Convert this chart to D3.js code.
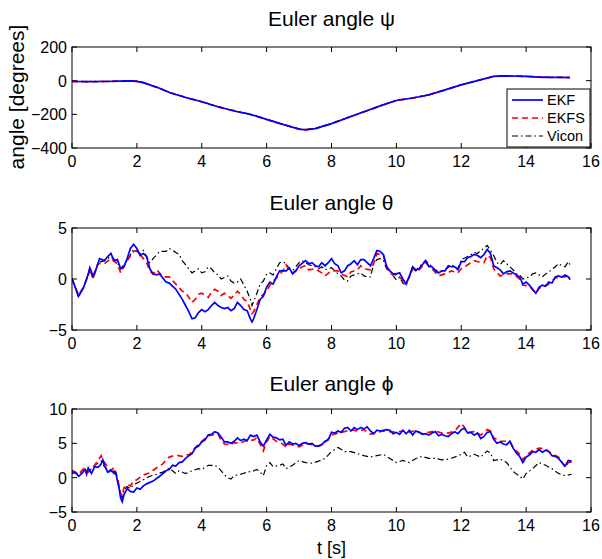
<!DOCTYPE html>
<html>
<head>
<meta charset="utf-8">
<script src="https://cdn.jsdelivr.net/npm/d3@7"></script>
<style>
  body { margin: 0; background: #fff; }
  text { font-family: "Liberation Sans", Arial, sans-serif; }
</style>
</head>
<body>
<div id="chart"></div>
<script>
const width = 602;
const height = 559;
const margin = { left: 72, right: 11 };

const xTicks = [0, 2, 4, 6, 8, 10, 12, 14, 16];
const seriesNames = ["EKF", "EKFS", "Vicon"];

// psi [t, deg]
const psiEKF = [[0,-5],[0.5,-6],[1,-5],[1.5,-3],[1.8,-1],[2,-4],[2.2,-12],[2.4,-25],[2.7,-45],[3,-70],[3.5,-100],[4,-125],[4.5,-155],[5,-180],[5.5,-200],[6,-230],[6.5,-260],[7,-288],[7.2,-292],[7.5,-285],[8,-255],[8.5,-220],[9,-185],[9.5,-150],[10,-118],[10.5,-103],[11,-85],[11.5,-55],[12,-25],[12.5,0],[13,25],[13.3,28],[14,26],[14.5,20],[15,20],[15.35,18]];
const psiEKFS = [[0,-4],[0.5,-7],[1,-5],[1.5,-3],[1.8,-1],[2,-4],[2.2,-12],[2.4,-26],[2.7,-46],[3,-70],[3.5,-99],[4,-126],[4.5,-156],[5,-179],[5.5,-201],[6,-231],[6.5,-261],[7,-287],[7.2,-291],[7.5,-284],[8,-256],[8.5,-219],[9,-186],[9.5,-151],[10,-117],[10.5,-104],[11,-84],[11.5,-56],[12,-24],[12.5,1],[13,26],[13.3,28],[14,25],[14.5,21],[15,19],[15.35,19]];
const psiVicon = [[0,-3],[0.5,-5],[1,-4],[1.5,-2],[1.8,0],[2,-3],[2.2,-11],[2.4,-24],[2.7,-44],[3,-69],[3.5,-98],[4,-124],[4.5,-154],[5,-178],[5.5,-199],[6,-229],[6.5,-259],[7,-286],[7.2,-290],[7.5,-283],[8,-254],[8.5,-218],[9,-184],[9.5,-149],[10,-116],[10.5,-102],[11,-83],[11.5,-54],[12,-24],[12.5,1],[13,26],[13.3,29],[14,27],[14.5,21],[15,20],[15.35,19]];

// theta [t, deg]
const thetaEKF = [[0,0],[0.1,-0.8],[0.2,-1.7],[0.35,-0.9],[0.5,0.5],[0.55,1.1],[0.65,0.3],[0.75,1.0],[0.85,2.0],[1,1.8],[1.1,2.2],[1.2,2.5],[1.3,1.8],[1.4,1.9],[1.5,1.0],[1.6,1.2],[1.7,2.0],[1.8,3.0],[1.9,3.4],[2,3.0],[2.1,2.3],[2.2,2.5],[2.3,2.2],[2.4,1.0],[2.5,0.5],[2.6,0.4],[2.7,0.5],[2.8,0.1],[2.9,-0.3],[3,-0.4],[3.2,-1.0],[3.4,-2.0],[3.5,-2.6],[3.6,-3.2],[3.7,-3.9],[3.8,-3.8],[3.9,-3.3],[4,-3.0],[4.1,-3.2],[4.2,-3.0],[4.3,-2.6],[4.4,-2.3],[4.5,-2.6],[4.6,-2.8],[4.7,-2.9],[4.8,-2.8],[4.9,-3.1],[5,-2.9],[5.1,-2.3],[5.2,-2.6],[5.3,-3.0],[5.4,-3.1],[5.5,-3.9],[5.55,-4.2],[5.6,-3.9],[5.7,-3.0],[5.8,-2.0],[5.9,-1.7],[6,-0.8],[6.1,-0.3],[6.2,-0.5],[6.3,0.2],[6.4,0.8],[6.6,0.8],[6.7,1.1],[6.8,0.5],[6.9,0.8],[7,1.3],[7.2,1.8],[7.3,1.5],[7.4,1.6],[7.5,1.3],[7.6,1.2],[7.7,1.6],[7.8,1.3],[7.9,1.6],[8,2.0],[8.1,1.5],[8.2,1.3],[8.3,0.6],[8.4,0.8],[8.5,1.3],[8.6,1.5],[8.7,1.8],[8.8,1.4],[8.9,1.9],[9,1.9],[9.1,1.6],[9.2,1.3],[9.3,2.0],[9.4,2.8],[9.5,2.7],[9.6,2.4],[9.7,1.2],[9.8,0.8],[9.9,0.5],[10,0.5],[10.1,0.6],[10.2,0.0],[10.3,-0.5],[10.4,0.3],[10.5,1.2],[10.6,0.9],[10.7,1.0],[10.8,1.4],[10.9,1.8],[11,1.2],[11.1,1.2],[11.2,0.8],[11.3,0.6],[11.4,0.8],[11.5,0.8],[11.6,1.3],[11.7,1.2],[11.8,1.2],[11.9,0.9],[12,1.7],[12.1,1.7],[12.2,2.1],[12.3,2.2],[12.4,2.4],[12.5,2.3],[12.6,2.1],[12.7,2.4],[12.8,2.9],[12.9,2.5],[13,1.3],[13.1,1.1],[13.2,0.9],[13.3,0.5],[13.4,0.7],[13.5,0.8],[13.6,0.6],[13.7,0.4],[13.8,0.2],[13.9,-0.5],[14,-0.3],[14.1,-0.6],[14.2,-1.0],[14.3,-1.4],[14.4,-0.8],[14.5,-0.6],[14.6,-0.7],[14.7,-0.3],[14.8,-0.4],[14.9,0.2],[15,0.3],[15.1,0.2],[15.2,0.4],[15.3,0.2],[15.35,0.0]];
const thetaEKFS = [[0,0],[0.2,-1.6],[0.35,-0.8],[0.5,0.3],[0.55,1.0],[0.65,0.0],[0.8,1.5],[1,1.5],[1.2,2.0],[1.4,1.5],[1.5,0.6],[1.7,1.8],[1.9,2.7],[2,2.8],[2.2,2.0],[2.3,1.6],[2.4,0.8],[2.5,0.5],[2.6,0.9],[2.7,0.6],[2.8,0.2],[3,0.2],[3.2,-0.5],[3.4,-1.2],[3.5,-1.3],[3.6,-1.8],[3.7,-2.3],[3.8,-2.0],[3.9,-1.5],[4,-1.4],[4.2,-1.8],[4.3,-1.3],[4.4,-1.0],[4.5,-1.2],[4.6,-1.6],[4.7,-1.4],[4.8,-1.6],[4.9,-1.9],[5,-1.6],[5.1,-1.2],[5.2,-1.5],[5.3,-2.0],[5.4,-2.2],[5.5,-3.0],[5.55,-3.4],[5.6,-3.2],[5.7,-2.5],[5.8,-1.8],[6,-1.2],[6.1,-0.6],[6.3,0.1],[6.5,0.8],[6.6,1.4],[6.7,0.8],[6.8,0.6],[7,1.0],[7.1,1.2],[7.2,1.3],[7.3,0.9],[7.5,1.0],[7.7,0.6],[7.8,0.3],[8,0.8],[8.2,0.8],[8.3,0.5],[8.5,0.2],[8.6,0.7],[8.8,0.9],[8.9,1.3],[9,1.0],[9.2,0.9],[9.3,1.5],[9.4,2.5],[9.5,2.4],[9.6,2.3],[9.7,1.2],[9.8,0.5],[10,0.4],[10.2,-0.1],[10.3,-0.4],[10.4,0.2],[10.5,1.0],[10.7,0.9],[10.9,1.6],[11.1,1.0],[11.3,0.3],[11.5,0.5],[11.7,0.8],[11.9,0.6],[12,1.0],[12.2,1.4],[12.4,1.8],[12.5,1.7],[12.7,1.6],[12.8,2.3],[12.9,2.1],[13,1.0],[13.2,0.3],[13.4,0.5],[13.6,0.5],[13.8,0.0],[13.9,-0.6],[14.1,-0.7],[14.3,-1.4],[14.4,-0.9],[14.5,-0.8],[14.7,-0.5],[14.9,0.1],[15.1,0.2],[15.2,0.2],[15.3,0.4],[15.35,-0.1]];
const thetaVicon = [[0,0.1],[0.2,-1.8],[0.4,-0.5],[0.55,1.0],[0.65,0.0],[0.8,1.6],[1,1.8],[1.2,2.2],[1.4,1.6],[1.5,1.0],[1.7,1.8],[1.9,2.9],[2.1,2.5],[2.2,2.8],[2.4,1.6],[2.5,2.0],[2.7,2.7],[2.9,2.7],[3,3.0],[3.1,2.8],[3.3,2.4],[3.4,1.8],[3.5,1.4],[3.6,1.0],[3.7,0.6],[3.8,0.8],[3.9,1.0],[4,0.6],[4.1,0.7],[4.2,1.2],[4.3,1.0],[4.4,0.6],[4.5,0.4],[4.6,0.0],[4.8,0.3],[4.9,-0.2],[5,-0.4],[5.1,-0.3],[5.2,0.0],[5.3,-0.6],[5.4,-1.2],[5.5,-2.0],[5.55,-2.6],[5.6,-2.2],[5.7,-1.4],[5.8,-0.5],[5.9,-0.2],[6,0.5],[6.1,0.6],[6.2,0.4],[6.3,1.0],[6.4,1.6],[6.5,1.7],[6.6,1.5],[6.7,1.0],[6.8,0.8],[6.9,1.2],[7,1.6],[7.1,1.8],[7.3,1.4],[7.5,1.2],[7.6,1.0],[7.7,1.2],[7.8,0.9],[8,1.1],[8.1,0.8],[8.2,0.5],[8.3,0.3],[8.4,-0.1],[8.5,-0.2],[8.6,0.3],[8.8,0.5],[8.9,0.6],[9,0.3],[9.1,0.2],[9.2,0.2],[9.3,1.5],[9.4,1.9],[9.5,2.0],[9.6,1.8],[9.7,1.0],[9.8,0.8],[9.9,0.3],[10,-0.1],[10.1,0.2],[10.2,-0.4],[10.3,-0.6],[10.4,0.2],[10.5,1.0],[10.6,0.8],[10.7,1.2],[10.9,1.8],[11,1.5],[11.2,0.9],[11.3,0.7],[11.5,0.9],[11.7,1.4],[11.9,1.0],[12,1.9],[12.2,2.2],[12.4,2.6],[12.5,2.5],[12.6,2.8],[12.7,3.0],[12.8,3.3],[12.9,2.8],[13,2.3],[13.1,1.6],[13.2,1.4],[13.3,1.8],[13.5,1.2],[13.6,0.9],[13.7,0.5],[13.8,0.4],[13.9,0.0],[14,0.1],[14.1,0.2],[14.2,0.5],[14.3,0.6],[14.5,0.2],[14.6,0.5],[14.7,0.7],[14.9,1.2],[15,1.5],[15.1,1.3],[15.2,1.2],[15.3,1.7],[15.35,1.4]];

// phi [t, deg]
const phiEKF = [[0,0.6],[0.1,0.8],[0.2,0.2],[0.3,0.6],[0.4,1.2],[0.45,0.5],[0.5,1.4],[0.6,0.6],[0.7,1.6],[0.8,1.5],[0.9,2.0],[0.95,2.6],[1,1.8],[1.1,0.8],[1.2,1.1],[1.3,0.6],[1.35,0.7],[1.4,-0.5],[1.45,-1.5],[1.5,-3.0],[1.55,-3.5],[1.6,-2.5],[1.7,-1.6],[1.8,-2.0],[1.9,-2.1],[2,-1.5],[2.1,-1.7],[2.2,-1.2],[2.3,-0.9],[2.5,-0.5],[2.7,0.2],[2.9,1.0],[3,1.2],[3.1,1.8],[3.2,1.7],[3.3,2.2],[3.4,2.3],[3.5,2.8],[3.6,3.2],[3.7,3.5],[3.8,4.3],[3.9,4.6],[4,5.2],[4.1,5.5],[4.2,6.2],[4.3,6.3],[4.4,6.7],[4.5,6.5],[4.6,5.9],[4.7,5.2],[4.8,5.2],[4.9,5.0],[5,5.3],[5.1,5.8],[5.2,5.4],[5.3,5.6],[5.4,5.4],[5.5,6.2],[5.6,6.0],[5.7,6.2],[5.8,5.2],[5.9,4.6],[6,5.5],[6.1,6.3],[6.2,5.9],[6.3,5.8],[6.4,5.5],[6.5,5.6],[6.6,4.7],[6.7,5.2],[6.8,4.9],[6.9,5.0],[7,4.7],[7.1,5.0],[7.2,5.1],[7.3,4.9],[7.4,5.0],[7.5,4.6],[7.6,4.6],[7.7,4.8],[7.8,5.3],[7.9,5.5],[8,6.6],[8.1,6.5],[8.2,6.8],[8.3,6.6],[8.4,7.2],[8.5,7.3],[8.6,6.8],[8.7,7.3],[8.8,7.0],[8.9,7.3],[9,7.1],[9.1,7.4],[9.2,6.8],[9.3,6.4],[9.4,6.9],[9.5,6.8],[9.6,6.9],[9.7,7.0],[9.8,6.9],[9.9,6.4],[10,6.6],[10.1,6.3],[10.2,6.9],[10.3,6.4],[10.4,6.9],[10.5,6.2],[10.6,6.8],[10.7,6.6],[10.8,6.3],[10.9,6.4],[11,6.2],[11.1,6.5],[11.2,6.7],[11.3,6.1],[11.4,6.3],[11.5,6.1],[11.6,6.0],[11.7,6.4],[11.8,6.7],[11.9,6.4],[12,7.0],[12.1,7.2],[12.2,6.5],[12.3,6.6],[12.4,6.2],[12.5,6.5],[12.6,5.7],[12.7,6.0],[12.8,6.6],[12.9,6.7],[13,5.6],[13.1,5.0],[13.2,5.2],[13.3,4.9],[13.4,4.8],[13.5,5.3],[13.6,4.3],[13.7,3.6],[13.8,3.1],[13.9,2.2],[14,3.0],[14.1,3.3],[14.2,3.8],[14.3,3.7],[14.4,4.1],[14.5,3.7],[14.6,4.0],[14.7,3.8],[14.8,3.2],[14.9,3.1],[15,2.8],[15.1,2.2],[15.2,1.7],[15.3,2.5],[15.4,2.4]];
const phiEKFS = [[0,1.1],[0.2,0.5],[0.4,1.5],[0.5,0.8],[0.7,1.8],[0.9,3.2],[1,2.2],[1.2,1.0],[1.3,1.5],[1.4,0.0],[1.5,-2.3],[1.55,-2.6],[1.6,-1.5],[1.7,-1.0],[1.8,-1.2],[1.9,-0.5],[2,-0.3],[2.2,0.4],[2.4,0.7],[2.6,1.4],[2.8,2.0],[2.9,2.6],[3,3.0],[3.2,3.3],[3.4,3.1],[3.5,3.4],[3.6,3.3],[3.7,3.8],[3.8,4.4],[4,5.3],[4.2,6.1],[4.4,6.3],[4.5,6.4],[4.6,5.4],[4.7,4.9],[4.9,4.8],[5,5.1],[5.2,5.0],[5.3,5.3],[5.5,5.4],[5.6,5.5],[5.7,5.8],[5.8,4.9],[5.9,3.9],[6,5.2],[6.1,6.0],[6.3,5.3],[6.5,4.9],[6.6,4.4],[6.7,4.9],[6.9,4.6],[7,4.5],[7.2,5.0],[7.4,4.8],[7.6,4.6],[7.8,5.1],[8,6.2],[8.2,6.5],[8.4,6.7],[8.6,7.0],[8.8,6.8],[9,7.0],[9.2,6.3],[9.4,6.6],[9.6,6.8],[9.8,6.7],[10,6.6],[10.2,6.8],[10.4,6.6],[10.6,6.9],[10.8,6.4],[11,6.6],[11.2,6.8],[11.4,6.5],[11.6,6.5],[11.8,6.8],[12,7.9],[12.1,7.3],[12.2,6.6],[12.4,6.7],[12.6,6.2],[12.8,7.0],[12.9,6.8],[13,5.8],[13.2,5.3],[13.4,5.3],[13.5,5.2],[13.6,4.4],[13.8,3.4],[13.9,2.6],[14,3.2],[14.2,4.0],[14.4,4.3],[14.6,4.2],[14.7,3.8],[14.8,3.5],[15,3.0],[15.1,2.3],[15.2,1.5],[15.3,2.2],[15.4,2.3]];
const phiVicon = [[0,0.9],[0.2,0.5],[0.4,1.2],[0.5,0.8],[0.7,1.8],[0.9,2.4],[1,1.6],[1.2,0.7],[1.3,1.0],[1.4,-0.4],[1.5,-2.3],[1.55,-3.0],[1.6,-1.8],[1.7,-1.3],[1.8,-1.6],[1.9,-1.0],[2,-0.8],[2.2,-0.3],[2.4,0.2],[2.6,0.5],[2.8,0.8],[3,1.4],[3.1,1.0],[3.2,0.6],[3.3,1.0],[3.5,0.6],[3.7,1.0],[3.9,1.3],[4,1.2],[4.2,1.8],[4.4,1.8],[4.5,1.5],[4.6,1.0],[4.7,0.4],[4.8,0.0],[4.9,-0.2],[5,0.3],[5.2,0.5],[5.4,0.8],[5.6,1.0],[5.7,1.2],[5.8,0.8],[5.9,0.3],[6,1.8],[6.1,2.2],[6.2,1.6],[6.4,1.8],[6.5,2.0],[6.6,1.3],[6.8,1.8],[7,2.5],[7.2,2.2],[7.4,2.1],[7.6,2.4],[7.8,2.8],[8,3.8],[8.2,4.4],[8.4,3.8],[8.6,3.8],[8.8,3.5],[9,3.2],[9.2,3.0],[9.4,3.2],[9.6,3.4],[9.8,2.8],[10,2.2],[10.2,2.5],[10.4,2.2],[10.6,2.8],[10.8,3.1],[11,2.8],[11.2,2.8],[11.4,2.6],[11.6,2.7],[11.8,3.0],[12,3.4],[12.1,3.7],[12.2,3.0],[12.4,3.4],[12.6,3.0],[12.8,3.9],[12.9,3.6],[13,2.5],[13.2,2.7],[13.4,2.2],[13.6,0.9],[13.8,0.2],[13.9,-0.2],[14,0.6],[14.2,1.3],[14.4,2.2],[14.6,1.8],[14.8,1.3],[15,0.6],[15.2,0.3],[15.4,0.5]];

const panels = [
  { title: "Euler angle ψ", top: 47, bottom: 148, domain: [-400, 200], ticks: [-400, -200, 0, 200], series: [psiEKF, psiEKFS, psiVicon], titleY: 26 },
  { title: "Euler angle θ", top: 228, bottom: 330, domain: [-5, 5], ticks: [-5, 0, 5], series: [thetaEKF, thetaEKFS, thetaVicon], titleY: 210 },
  { title: "Euler angle ϕ", top: 409, bottom: 512, domain: [-5, 10], ticks: [-5, 0, 5, 10], series: [phiEKF, phiEKFS, phiVicon], titleY: 391 }
];

const styles = [
  { color: "#0000ff", width: 1.7, dash: null },
  { color: "#ff0000", width: 1.7, dash: "6,4" },
  { color: "#000000", width: 1.2, dash: "6,3,1.5,3" }
];

const fmt = (v) => (v < 0 ? "\u2212" + Math.abs(v) : String(v));

const svg = d3.select("#chart").append("svg")
  .attr("width", width)
  .attr("height", height);

const x = d3.scaleLinear().domain([0, 16]).range([margin.left, width - margin.right]);

panels.forEach((p, k) => {
  const y = d3.scaleLinear().domain(p.domain).range([p.bottom, p.top]);
  const g = svg.append("g");

  g.append("clipPath").attr("id", "clip" + k)
    .append("rect")
    .attr("x", x(0)).attr("y", p.top)
    .attr("width", x(16) - x(0)).attr("height", p.bottom - p.top);

  // ticks inside, MATLAB style, on all four sides
  const tl = 5;
  xTicks.forEach((t) => {
    g.append("line").attr("x1", x(t)).attr("x2", x(t)).attr("y1", p.bottom).attr("y2", p.bottom - tl).attr("stroke", "#000");
    g.append("line").attr("x1", x(t)).attr("x2", x(t)).attr("y1", p.top).attr("y2", p.top + tl).attr("stroke", "#000");
    g.append("text").attr("x", x(t)).attr("y", p.bottom + 19)
      .attr("text-anchor", "middle").attr("font-size", 16).text(fmt(t));
  });
  p.ticks.forEach((t) => {
    g.append("line").attr("x1", x(0)).attr("x2", x(0) + tl).attr("y1", y(t)).attr("y2", y(t)).attr("stroke", "#000");
    g.append("line").attr("x1", x(16)).attr("x2", x(16) - tl).attr("y1", y(t)).attr("y2", y(t)).attr("stroke", "#000");
    g.append("text").attr("x", x(0) - 5).attr("y", y(t) + 6)
      .attr("text-anchor", "end").attr("font-size", 16).text(fmt(t));
  });

  const line = d3.line().x((d) => x(d[0])).y((d) => y(d[1]));

  const lines = g.append("g").attr("clip-path", "url(#clip" + k + ")");
  [2, 1, 0].forEach((i) => {
    lines.append("path")
      .datum(p.series[i])
      .attr("d", line)
      .attr("fill", "none")
      .attr("stroke", styles[i].color)
      .attr("stroke-width", styles[i].width)
      .attr("stroke-dasharray", styles[i].dash);
  });

  g.append("rect")
    .attr("x", x(0)).attr("y", p.top)
    .attr("width", x(16) - x(0)).attr("height", p.bottom - p.top)
    .attr("fill", "none").attr("stroke", "#000").attr("stroke-width", 1);

  g.append("text").attr("x", (x(0) + x(16)) / 2).attr("y", p.titleY)
    .attr("text-anchor", "middle").attr("font-size", 21).text(p.title);
});

// y label on top panel
svg.append("text")
  .attr("transform", "translate(24,97) rotate(-90)")
  .attr("text-anchor", "middle")
  .attr("font-size", 21)
  .text("angle [degrees]");

// x label
svg.append("text")
  .attr("x", (x(0) + x(16)) / 2).attr("y", 554)
  .attr("text-anchor", "middle")
  .attr("font-size", 18)
  .text("t [s]");

// legend
const lg = svg.append("g").attr("transform", "translate(507,89)");
lg.append("rect").attr("width", 83).attr("height", 58)
  .attr("fill", "#fff").attr("stroke", "#000").attr("stroke-width", 1);
seriesNames.forEach((name, i) => {
  const ly = 11 + i * 18;
  lg.append("line").attr("x1", 5).attr("x2", 36).attr("y1", ly).attr("y2", ly)
    .attr("stroke", styles[i].color).attr("stroke-width", styles[i].width)
    .attr("stroke-dasharray", styles[i].dash);
  lg.append("text").attr("x", 40).attr("y", ly + 5)
    .attr("font-size", 14.5).text(name);
});
</script>
</body>
</html>
